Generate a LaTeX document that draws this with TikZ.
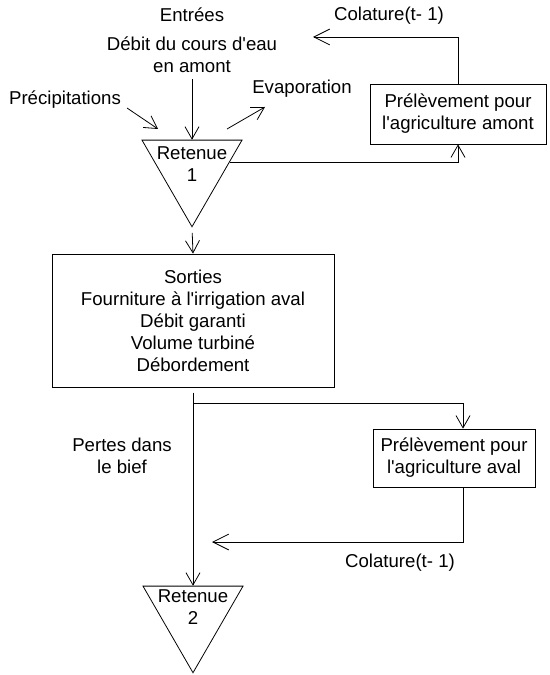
\documentclass[tikz,border=0pt]{standalone}
\usepackage{fontspec}
\setmainfont{Liberation Sans}
\usetikzlibrary{arrows.meta,shapes.geometric}

\begin{document}
\begin{tikzpicture}[x=0.02cm,y=-0.02cm,
  font=\fontsize{10.6}{12.5}\selectfont,
  line width=0.45pt,
  flow/.style={-{Straight Barb[length=7pt,width=8pt]}},
  bigflow/.style={-{Straight Barb[length=9pt,width=9pt]}},
  box/.style={draw,align=center,inner sep=2pt},
  reservoir/.style={draw,regular polygon,regular polygon sides=3,shape border rotate=180,minimum size=2.31cm,inner sep=0pt}]
\useasboundingbox (0,0) rectangle (549,675);

\node (entrees) at (192,15) {Entrées};
\node[align=center] (debit) at (192,55) {Débit du cours d\textquotesingle eau\\en amont};
\node (precip) at (65,100) {Précipitations};
\node (evap) at (302,89) {Evaporation};
\node (col1) at (389,16) {Colature(t- 1)};

\node[reservoir] (ret1) at (192,169) {};
\node[align=center] (ret1lbl) at (192,164) {Retenue\\1};
\node[box,minimum width=3.52cm,minimum height=1.2cm] (amont) at (458,114) {Prélèvement pour\\l\textquotesingle agriculture amont};

\node[box,minimum width=5.64cm,minimum height=2.66cm] (sorties) at (193,320.5) {Sorties\\Fourniture à l\textquotesingle irrigation aval\\Débit garanti\\Volume turbiné\\Débordement};

\node[align=center] (pertes) at (122,456) {Pertes dans\\le bief};
\node[box,minimum width=3.24cm,minimum height=1.16cm] (aval) at (454,458) {Prélèvement pour\\l\textquotesingle agriculture aval};
\node (col2) at (400,563) {Colature(t- 1)};

\node[reservoir] (ret2) at (193,615) {};
\node[align=center] (ret2lbl) at (193,607) {Retenue\\2};

\coordinate (pA) at (127,108);
\coordinate (pB) at (158,129);
\coordinate (eA) at (227,129);
\coordinate (eB) at (265,107);
\coordinate (col1tip) at (313,37);
\coordinate (split) at (193,403);
\coordinate (col2tip) at (212,542);

\draw[flow] (debit.south) -- (ret1.90);
\draw[flow] (pA) -- (pB);
\draw[flow] (eA) -- (eB);
\draw[flow] (ret1.10) -| (amont.south);
\draw[bigflow] (amont.north) |- (col1tip);

\draw[flow,shorten <=3pt] (ret1.270) -- (sorties.north);
\draw[flow,shorten <=3pt] (sorties.south) -- (ret2.90);
\draw[flow] (split) -| ([xshift=0.18cm]aval.north);
\draw[bigflow] ([xshift=0.18cm]aval.south) |- (col2tip);
\end{tikzpicture}
\end{document}
